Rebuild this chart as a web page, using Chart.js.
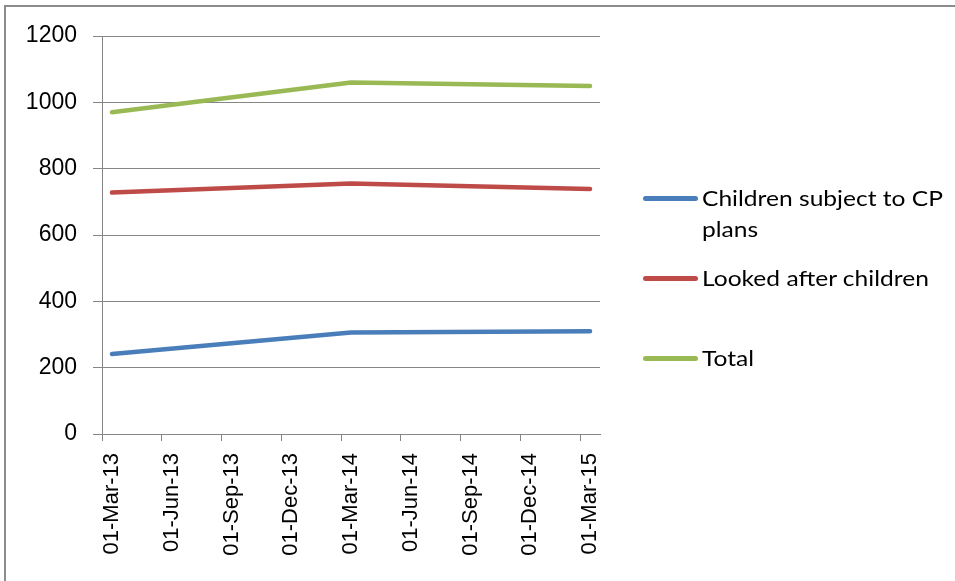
<!DOCTYPE html>
<html>
<head>
<meta charset="utf-8">
<script src="https://cdn.jsdelivr.net/npm/chart.js@4/dist/chart.umd.min.js"></script>
<style>
  html, body { margin: 0; padding: 0; background: #fff; }
  #wrap { position: relative; width: 955px; height: 581px; overflow: hidden; }
  #frame {
    position: absolute; left: 4px; top: 5px; width: 1000px; height: 700px;
    border-left: 2px solid #8c8c8c; border-top: 2px solid #8c8c8c;
  }
  #chart { position: absolute; left: 0; top: 0; }
  #legend {
    position: absolute; left: 643px; top: 182px; width: 300px;
    font-family: Lato, "Open Sans", sans-serif; font-size: 21px; color: #000;
  }
  .item { position: absolute; left: 0; width: 300px; }
  .swatch { position: absolute; left: 0; width: 55px; height: 5px; border-radius: 3px; }
  .text {
    position: absolute; left: 59px; line-height: 31px; white-space: nowrap;
    transform: scaleX(1.17); transform-origin: 0 0;
  }
</style>
</head>
<body>
<div id="wrap">
  <div id="frame"></div>
  <canvas id="chart" width="955" height="581"></canvas>
  <div id="legend"></div>
</div>
<script>
// tick dates along the bottom axis (quarterly)
const tickLabels = ['01-Mar-13', '01-Jun-13', '01-Sep-13', '01-Dec-13', '01-Mar-14',
                    '01-Jun-14', '01-Sep-14', '01-Dec-14', '01-Mar-15'];
// dates of the yearly counts
const pointDates = ['01-Mar-13', '01-Mar-14', '01-Mar-15'];

const seriesNames = ['Children subject to CP plans', 'Looked after children', 'Total'];
const cpPlans = [241, 306, 310];
const lookedAfter = [728, 755, 739];
const totals = [970, 1060, 1049];
const seriesColors = ['#4a7ebb', '#be4b48', '#98b954'];

const MONTHS = ['Jan', 'Feb', 'Mar', 'Apr', 'May', 'Jun', 'Jul', 'Aug', 'Sep', 'Oct', 'Nov', 'Dec'];
// months since the first tick date
function monthIndex(label) {
  const [, mon, yy] = label.split('-');
  const base = tickLabels[0].split('-');
  return (Number(yy) - Number(base[2])) * 12 + MONTHS.indexOf(mon) - MONTHS.indexOf(base[1]);
}
const tickValues = tickLabels.map(monthIndex);
// points sit in the middle of their month, like Excel date axes
const pointX = pointDates.map(d => monthIndex(d) + 0.5);

const series = [cpPlans, lookedAfter, totals];
const datasets = series.map((vals, i) => ({
  label: seriesNames[i],
  data: vals.map((v, j) => ({ x: pointX[j], y: v })),
  borderColor: seriesColors[i],
  backgroundColor: seriesColors[i],
  borderWidth: 4.5,
  pointRadius: 0,
  borderCapStyle: 'round',
  borderJoinStyle: 'round',
  tension: 0
}));

const GRID = '#868686';
const FONT = '"Liberation Sans", Arial, sans-serif';

new Chart(document.getElementById('chart'), {
  type: 'line',
  data: { datasets },
  options: {
    responsive: false,
    animation: false,
    layout: { padding: { left: 0, top: 36, right: 355, bottom: 0 } },
    plugins: { legend: { display: false }, tooltip: { enabled: false } },
    scales: {
      x: {
        type: 'linear',
        min: 0,
        max: 25,
        afterBuildTicks: s => { s.ticks = tickValues.map(v => ({ value: v })); },
        afterFit: s => { s.height = 147; },
        grid: { drawOnChartArea: false, color: GRID, tickLength: 7, lineWidth: 1 },
        border: { color: GRID, width: 1 },
        ticks: {
          minRotation: 90, maxRotation: 90, padding: 12, labelOffset: 10, color: '#000',
          font: { family: FONT, size: 22 },
          callback: v => tickLabels[tickValues.indexOf(v)]
        }
      },
      y: {
        min: 0,
        max: 1200,
        afterFit: s => { s.width = 102; },
        grid: { color: GRID, tickLength: 9, lineWidth: 1 },
        border: { color: GRID, width: 1 },
        ticks: {
          stepSize: 200, padding: 16, color: '#000',
          font: { family: FONT, size: 23 },
          callback: v => String(v)
        }
      }
    }
  }
});

// legend at the right, first label wraps onto two lines
const legendTops = [0, 80, 160];
const legendText = ['Children subject to CP<br>plans', seriesNames[1], seriesNames[2]];
const legend = document.getElementById('legend');
seriesNames.forEach((name, i) => {
  const item = document.createElement('div');
  item.className = 'item';
  item.style.top = legendTops[i] + 'px';
  item.innerHTML = '<div class="swatch" style="top:14px;background:' + seriesColors[i] + '"></div>' +
                   '<div class="text">' + legendText[i] + '</div>';
  legend.appendChild(item);
});
</script>
</body>
</html>
